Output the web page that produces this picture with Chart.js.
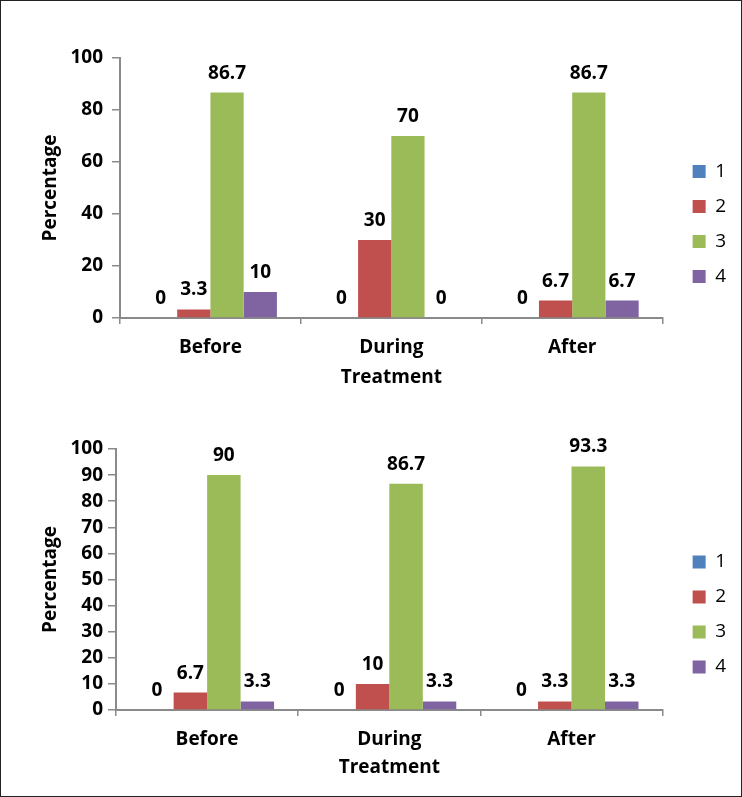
<!DOCTYPE html>
<html>
<head>
<meta charset="utf-8">
<script src="https://cdn.jsdelivr.net/npm/chart.js@4.4.0/dist/chart.umd.min.js"></script>
<style>
body{margin:0;background:#fff}
#wrap{position:relative;width:742px;height:797px;overflow:hidden;background:#fff}
#frame{position:absolute;left:0;top:0;width:742px;height:797px;box-sizing:border-box;border:1px solid #222;pointer-events:none}
canvas{position:absolute;left:0}
</style>
</head>
<body>
<div id="wrap">
<canvas id="chart1" width="742" height="398" style="top:0"></canvas>
<canvas id="chart2" width="742" height="399" style="top:398px"></canvas>
<div id="frame"></div>
</div>
<script>
// categories + series names
const categories = ['Before', 'During', 'After']
const seriesNames = ['1', '2', '3', '4']
const colors = ['#4F81BD', '#C0504D', '#9BBB59', '#8064A2']

// top chart values (one array per series)
const top1 = [0, 0, 0]
const top2 = [3.3, 30, 6.7]
const top3 = [86.7, 70, 86.7]
const top4 = [10, 0, 6.7]

// bottom chart values
const bottom1 = [0, 0, 0]
const bottom2 = [6.7, 10, 3.3]
const bottom3 = [90, 86.7, 93.3]
const bottom4 = [3.3, 3.3, 3.3]

const font = 'Open Sans'
const axisGray = '#8a8a8a'

// draws the number above each bar
const valueLabels = {
    id: 'valueLabels',
    afterDatasetsDraw(chart) {
        let ctx = chart.ctx
        ctx.save()
        ctx.font = 'bold 19px "' + font + '"'
        ctx.fillStyle = '#000'
        ctx.textAlign = 'center'
        ctx.textBaseline = 'alphabetic'
        chart.data.datasets.forEach((ds, i) => {
            chart.getDatasetMeta(i).data.forEach((bar, j) => {
                ctx.fillText(String(ds.data[j]), bar.x, bar.y - 14)
            })
        })
        ctx.restore()
    }
}

// nudge the legend a bit to the right / up, like the original
const legendNudge = {
    id: 'legendNudge',
    afterLayout(chart) {
        let lg = chart.legend
        lg.left += 14
        lg.right += 14
        lg.top -= 4
        lg.bottom -= 4
    }
}

function makeChart(id, values, step, pad, yWidth, xHeight, tickPad) {
    let datasets = values.map((v, i) => ({
        label: seriesNames[i],
        data: v,
        backgroundColor: colors[i],
        categoryPercentage: 0.735,
        barPercentage: 1
    }))
    return new Chart(document.getElementById(id), {
        type: 'bar',
        data: { labels: categories, datasets: datasets },
        plugins: [valueLabels, legendNudge],
        options: {
            responsive: false,
            animation: false,
            layout: { padding: pad },
            plugins: {
                tooltip: { enabled: false },
                legend: {
                    position: 'right',
                    labels: {
                        boxWidth: 13,
                        boxHeight: 13,
                        padding: 16,
                        color: '#000',
                        font: { family: font, size: 19 }
                    }
                }
            },
            scales: {
                x: {
                    afterFit: (s) => { s.height = xHeight },
                    grid: { drawOnChartArea: false, color: axisGray, tickLength: 6, lineWidth: 1.5 },
                    border: { color: axisGray, width: 2 },
                    ticks: { color: '#000', padding: 12, font: { family: font, size: 19, weight: 'bold' } },
                    title: { display: true, text: 'Treatment', color: '#000', padding: { top: 4, bottom: 9 }, font: { family: font, size: 19, weight: 'bold' } }
                },
                y: {
                    min: 0,
                    max: 100,
                    afterFit: (s) => { s.width = yWidth },
                    grid: { drawOnChartArea: false, color: axisGray, tickLength: 8, lineWidth: 1.5 },
                    border: { color: axisGray, width: 2 },
                    ticks: { stepSize: step, autoSkip: false, color: '#000', padding: tickPad, font: { family: font, size: 19, weight: 'bold' } },
                    title: { display: true, text: 'Percentage', color: '#000', padding: 4, font: { family: font, size: 19, weight: 'bold' } }
                }
            }
        }
    })
}

makeChart('chart1', [top1, top2, top3, top4], 20,
    { top: 58, left: 35, bottom: 0, right: 20 }, 85, 80, 9)
makeChart('chart2', [bottom1, bottom2, bottom3, bottom4], 10,
    { top: 51, left: 35, bottom: 9, right: 20 }, 81, 78, 5)
</script>
</body>
</html>
